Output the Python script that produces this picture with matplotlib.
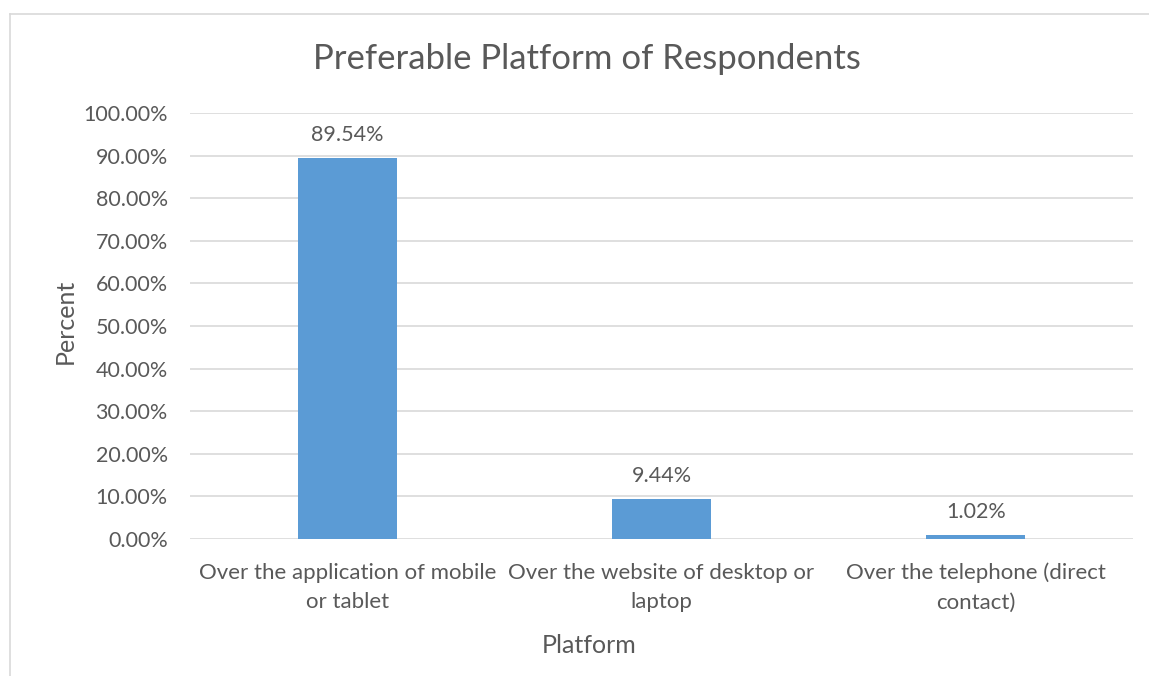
import matplotlib
matplotlib.use("Agg")
import matplotlib.pyplot as plt
from matplotlib.lines import Line2D
from matplotlib.ticker import FuncFormatter, MultipleLocator

categories = ["Over the application of mobile\nor tablet",
              "Over the website of desktop or\nlaptop",
              "Over the telephone (direct\ncontact)"]
values = [0.8954, 0.0944, 0.0102]
value_labels = ["89.54%", "9.44%", "1.02%"]

plt.rcParams['font.family'] = ['Lato', 'DejaVu Sans']
TXT = '#595959'

fig = plt.figure(figsize=(11.49, 6.76), dpi=100)
ax = fig.add_axes([0.1654, 0.2027, 0.8206, 0.6301])

x = range(len(categories))
bars = ax.bar(x, values, width=0.315, color='#5B9BD5', zorder=3)
for b, lab in zip(bars, value_labels):
    ax.annotate(lab, (b.get_x() + b.get_width() / 2, b.get_height()),
                xytext=(0, 9), textcoords='offset points',
                ha='center', va='bottom', fontsize=15.5, color=TXT)

ax.set_xlim(-0.5, 2.5)
ax.set_ylim(0, 1.0)
ax.yaxis.set_major_locator(MultipleLocator(0.1))
ax.yaxis.set_major_formatter(FuncFormatter(lambda v, p: f"{v*100:.2f}%"))
ax.set_xticks(list(x))
ax.set_xticklabels(categories, fontsize=16, color=TXT, linespacing=1.6)
ax.tick_params(axis='y', labelsize=15.5, labelcolor=TXT, length=0, pad=16)
ax.tick_params(axis='x', length=0, pad=17)
ax.grid(axis='y', color='#D9D9D9', linewidth=1.2, zorder=0)
for s in ax.spines.values():
    s.set_visible(False)
ax.set_axisbelow(True)

ax.set_xlabel("Platform", fontsize=18, color=TXT, labelpad=15)
ax.xaxis.label.set_x(0.423)
ax.set_ylabel("Percent", fontsize=18, color=TXT, labelpad=5)
ax.yaxis.label.set_y(0.51 if False else 0.51)
fig.text(0.511, 0.912, "Preferable Platform of Respondents", ha='center',
         va='center', fontsize=25, color=TXT)

# outer chart border (top and left visible)
fig.add_artist(Line2D([10/1149, 1.0], [1 - 14/676, 1 - 14/676],
                      transform=fig.transFigure, color='#D9D9D9', linewidth=1.2))
fig.add_artist(Line2D([10/1149, 10/1149], [1 - 14/676, 0],
                      transform=fig.transFigure, color='#D9D9D9', linewidth=1.2))

fig.savefig("out.png", dpi=100)
